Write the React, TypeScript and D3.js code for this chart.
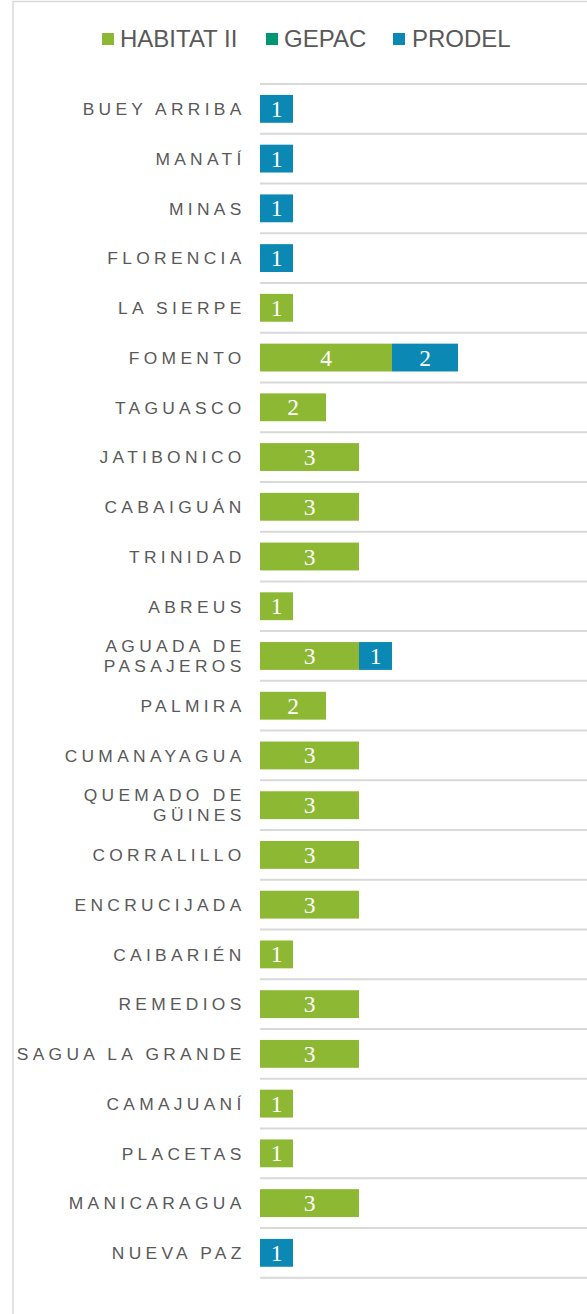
import React from "react";
import * as d3 from "d3";

const categories = [
  "BUEY ARRIBA", "MANATÍ", "MINAS", "FLORENCIA", "LA SIERPE", "FOMENTO",
  "TAGUASCO", "JATIBONICO", "CABAIGUÁN", "TRINIDAD", "ABREUS",
  "AGUADA DE\nPASAJEROS", "PALMIRA", "CUMANAYAGUA", "QUEMADO DE\nGÜINES",
  "CORRALILLO", "ENCRUCIJADA", "CAIBARIÉN", "REMEDIOS", "SAGUA LA GRANDE",
  "CAMAJUANÍ", "PLACETAS", "MANICARAGUA", "NUEVA PAZ",
];
const habitat = [0, 0, 0, 0, 1, 4, 2, 3, 3, 3, 1, 3, 2, 3, 3, 3, 3, 1, 3, 3, 1, 1, 3, 0];
const gepac = [0, 0, 0, 0, 0, 0, 0, 0, 0, 0, 0, 0, 0, 0, 0, 0, 0, 0, 0, 0, 0, 0, 0, 0];
const prodel = [1, 1, 1, 1, 0, 2, 0, 0, 0, 0, 0, 1, 0, 0, 0, 0, 0, 0, 0, 0, 0, 0, 0, 1];
const seriesNames = ["HABITAT II", "GEPAC", "PRODEL"];
const seriesColors = ["#8DB833", "#00966F", "#0B88B3"];

const W = 587;
const H = 1314;

export default function App() {
  const series = [habitat, gepac, prodel];
  const y = d3
    .scaleBand<number>()
    .domain(d3.range(categories.length))
    .range([84, 1277.7])
    .paddingInner(0.44)
    .paddingOuter(0.22);
  const x = d3.scaleLinear().domain([0, 10]).range([260, 590]);

  const rows = categories.map((c, i) => {
    let acc = 0;
    const segs = series.map((s, k) => {
      const v = s[i];
      const seg = { k, v, x0: acc, x1: acc + v };
      acc += v;
      return seg;
    });
    return { c, i, segs };
  });

  const step = y.step();
  const gridYs = d3.range(categories.length + 1).map((i) => 84 + i * step);

  const legendPos = [
    { sx: 102, tx: 120 },
    { sx: 266, tx: 284 },
    { sx: 393, tx: 412 },
  ];

  return (
    <svg
      width={W}
      height={H}
      style={{ position: "absolute", left: 0, top: 0, display: "block", background: "#fff" }}
    >
      <rect x={13} y={1.5} width={W + 20} height={H + 20} fill="#fff" stroke="#d9d9d9" strokeWidth={1.5} />
      {gridYs.map((gy, i) => (
        <line key={i} x1={260} x2={W} y1={gy} y2={gy} stroke="#d9d9d9" strokeWidth={2} />
      ))}
      {rows.map((r) =>
        r.segs
          .filter((s) => s.v > 0)
          .map((s) => (
            <g key={`${r.i}-${s.k}`}>
              <rect
                x={x(s.x0)}
                y={y(r.i)!}
                width={x(s.x1) - x(s.x0)}
                height={y.bandwidth()}
                fill={seriesColors[s.k]}
              />
              <text
                x={(x(s.x0) + x(s.x1)) / 2}
                y={y(r.i)! + y.bandwidth() / 2 + 8}
                textAnchor="middle"
                fill="#fff"
                fontFamily="'Liberation Serif', serif"
                fontSize={23.5}
              >
                {s.v}
              </text>
            </g>
          ))
      )}
      {rows.map((r) => {
        const lines = r.c.split("\n");
        const cy = y(r.i)! + y.bandwidth() / 2;
        return (
          <text
            key={`l${r.i}`}
            x={245.6}
            textAnchor="end"
            fill="#595959"
            fontFamily="'Liberation Sans', Arial, sans-serif"
            fontSize={17.4}
            letterSpacing={4.3}
          >
            {lines.map((ln, j) => (
              <tspan key={j} x={245.6} y={cy + 6.3 + (j - (lines.length - 1) / 2) * 20}>
                {ln}
              </tspan>
            ))}
          </text>
        );
      })}
      {seriesNames.map((n, k) => (
        <g key={n}>
          <rect x={legendPos[k].sx} y={33} width={12} height={12} fill={seriesColors[k]} />
          <text
            x={legendPos[k].tx}
            y={46.5}
            fill="#595959"
            fontFamily="'Liberation Sans', Arial, sans-serif"
            fontSize={24}
          >
            {n}
          </text>
        </g>
      ))}
    </svg>
  );
}
